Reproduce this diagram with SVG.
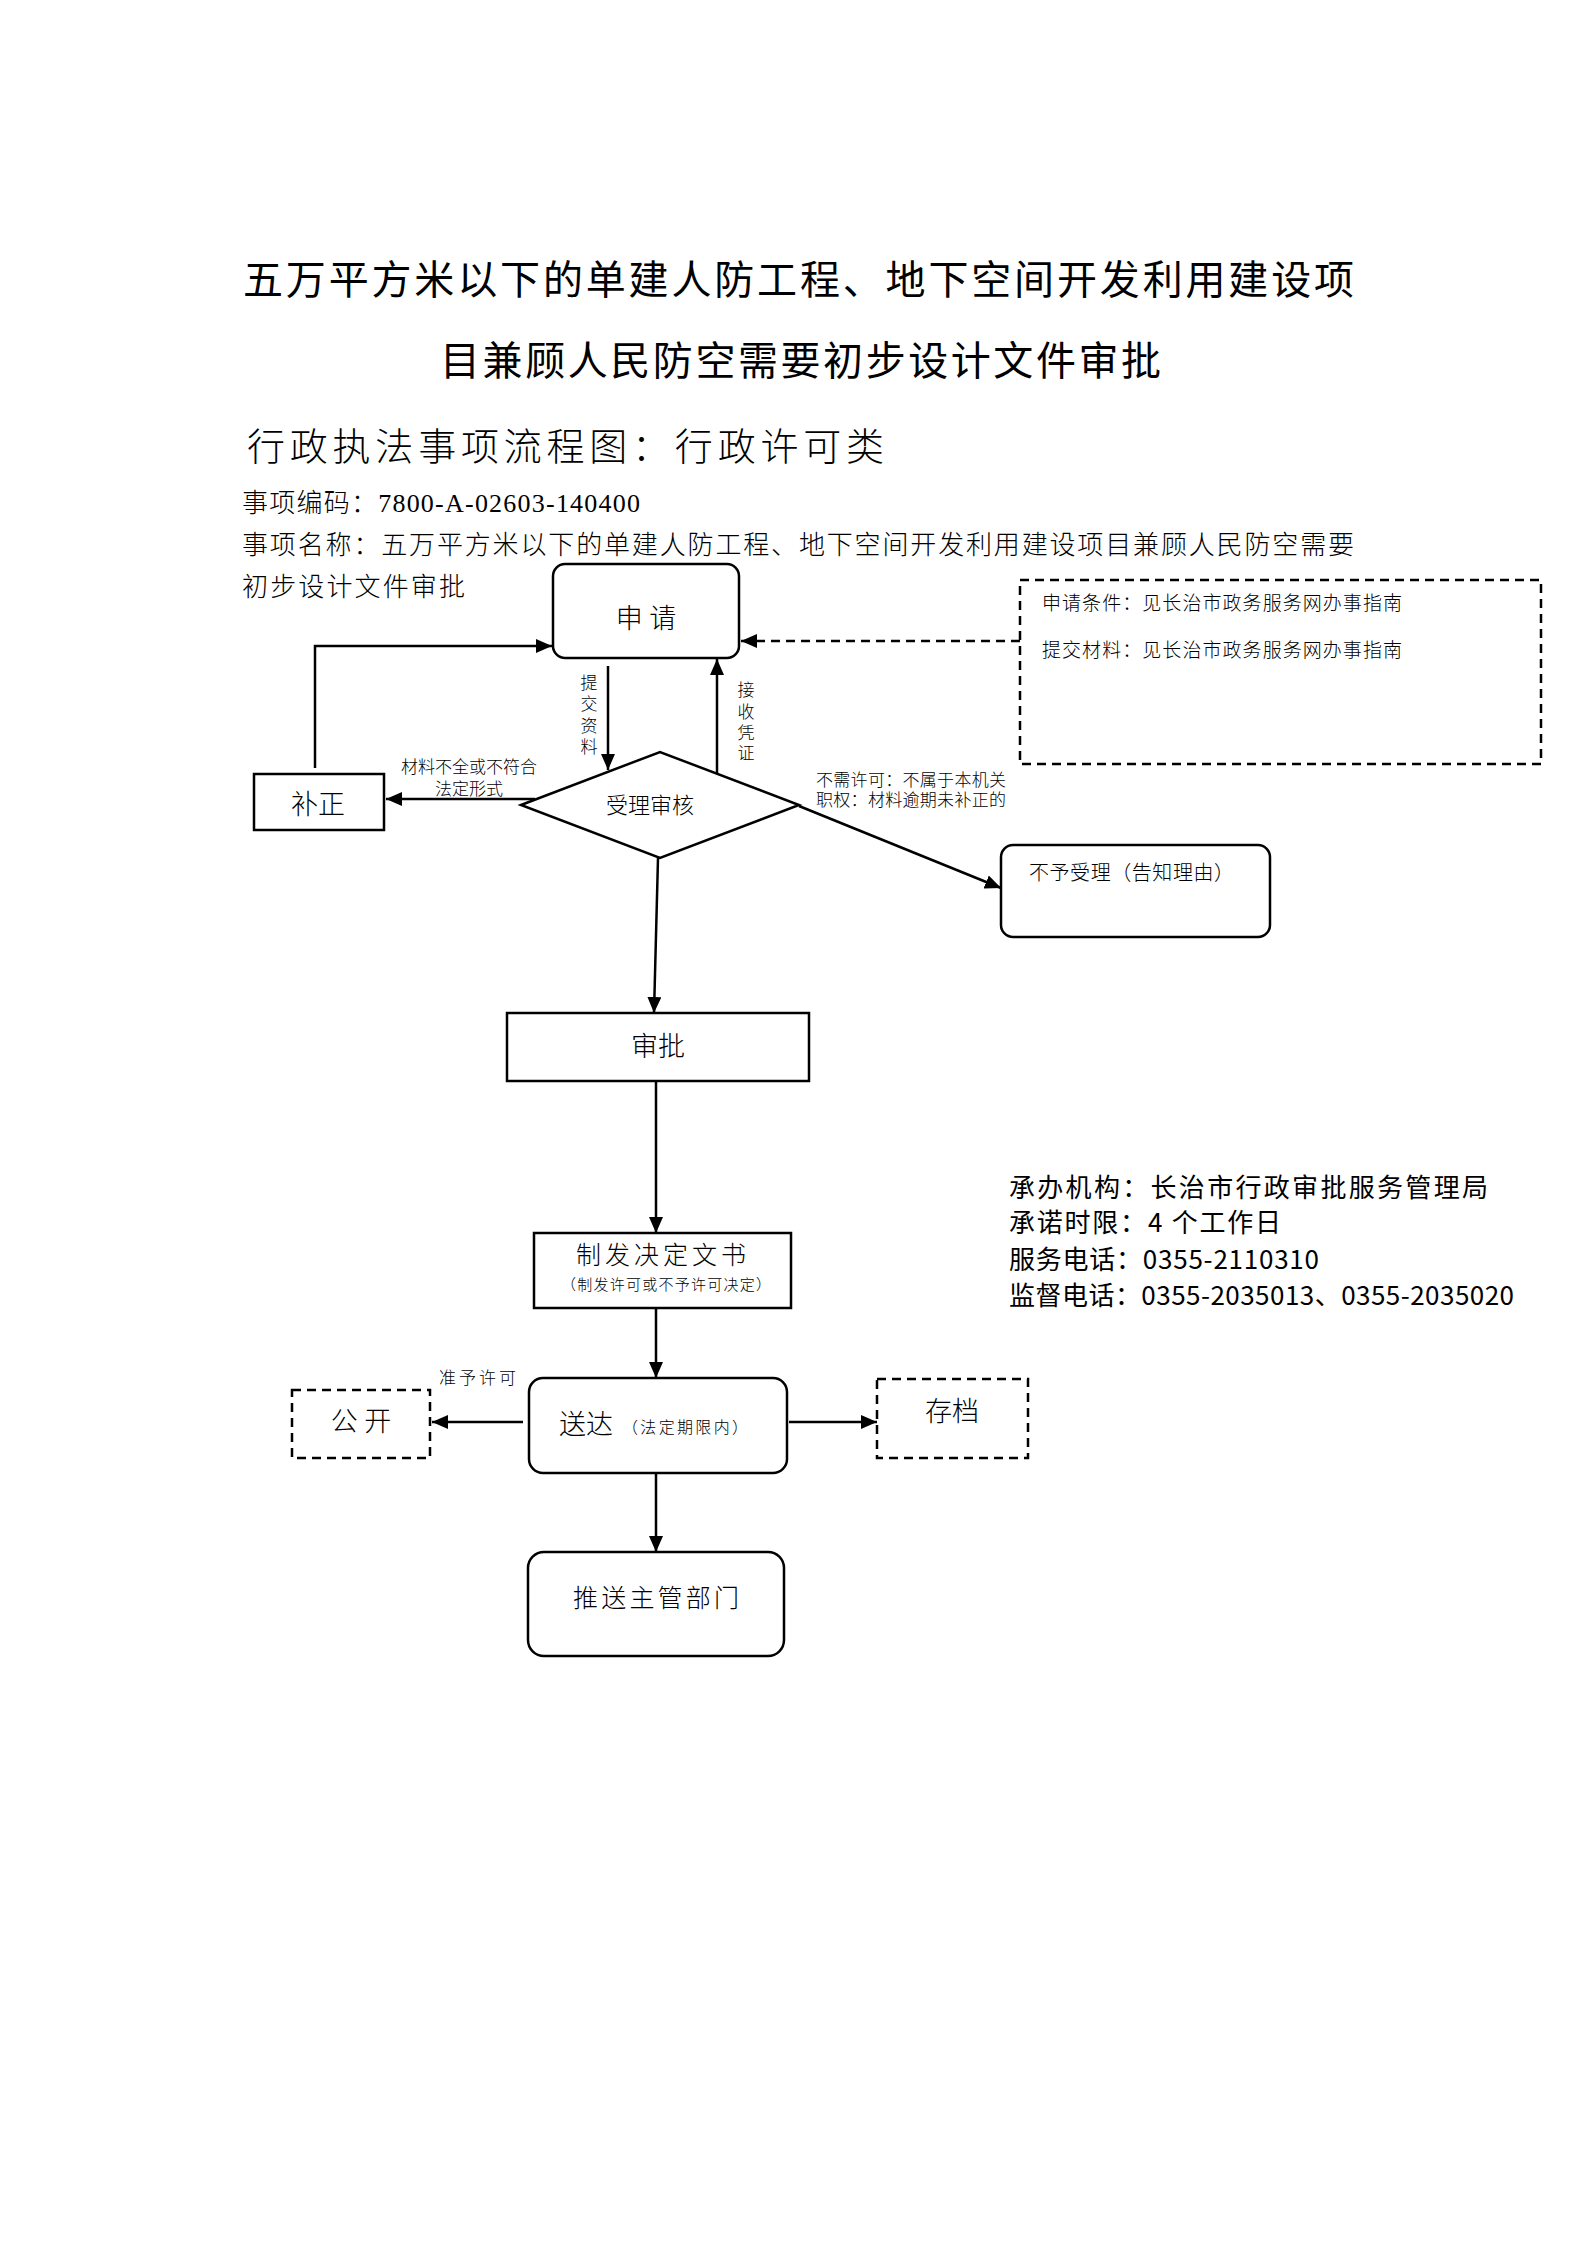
<svg xmlns="http://www.w3.org/2000/svg" width="1587" height="2245" viewBox="0 0 1587 2245">
<style>
.b{fill:#fff;stroke:#000;stroke-width:2.5}
.dbox{fill:none;stroke:#000;stroke-width:2.5;stroke-dasharray:9 6}
.c{fill:none;stroke:#000;stroke-width:2.5}
.cd{fill:none;stroke:#000;stroke-width:2.5;stroke-dasharray:9 6}
.s{font-family:"Liberation Serif","Noto Sans CJK SC",serif;fill:#000;font-weight:300}
.h{font-family:"Noto Sans CJK SC","Liberation Sans",sans-serif;fill:#000}
text{dominant-baseline:central}
</style>
<defs>
<marker id="ah" viewBox="0 0 16 14" refX="16" refY="7" markerWidth="16" markerHeight="14" markerUnits="userSpaceOnUse" orient="auto">
<path d="M0,0 L16,7 L0,14 z" fill="#000"/>
</marker>
</defs>
<rect width="1587" height="2245" fill="#fff"/>

<g id="header">
<text class="h" x="243" y="277" font-size="40" textLength="1111" lengthAdjust="spacing">五万平方米以下的单建人防工程、地下空间开发利用建设项</text>
<text class="h" x="440" y="358" font-size="40" textLength="721" lengthAdjust="spacing">目兼顾人民防空需要初步设计文件审批</text>
<text class="h" x="247" y="443" font-size="38" font-weight="300" textLength="637" lengthAdjust="spacing">行政执法事项流程图：行政许可类</text>
<text class="s" x="242" y="503" font-size="26" textLength="398" lengthAdjust="spacing">事项编码：7800-A-02603-140400</text>
<text class="s" x="242" y="545" font-size="26" textLength="1112" lengthAdjust="spacing">事项名称：五万平方米以下的单建人防工程、地下空间开发利用建设项目兼顾人民防空需要</text>
<text class="s" x="242" y="587" font-size="26" textLength="223" lengthAdjust="spacing">初步设计文件审批</text>
</g>

<g id="connectors">
<line class="c" x1="608" y1="666" x2="608" y2="770" marker-end="url(#ah)"/>
<line class="c" x1="717" y1="774" x2="717" y2="659" marker-end="url(#ah)"/>
<polyline class="c" points="315,768 315,646 552,646" marker-end="url(#ah)"/>
<line class="c" x1="535" y1="799" x2="386" y2="799" marker-end="url(#ah)"/>
<line class="cd" x1="1020" y1="641" x2="741" y2="641" marker-end="url(#ah)"/>
<line class="c" x1="799" y1="806" x2="1001" y2="888" marker-end="url(#ah)"/>
<line class="c" x1="658" y1="858" x2="654" y2="1013" marker-end="url(#ah)"/>
<line class="c" x1="656" y1="1081" x2="656" y2="1233" marker-end="url(#ah)"/>
<line class="c" x1="656" y1="1308" x2="656" y2="1378" marker-end="url(#ah)"/>
<line class="c" x1="523" y1="1422" x2="432" y2="1422" marker-end="url(#ah)"/>
<line class="c" x1="789" y1="1422" x2="877" y2="1422" marker-end="url(#ah)"/>
<line class="c" x1="656" y1="1473" x2="656" y2="1552" marker-end="url(#ah)"/>
<g id="connector-labels">
<g class="s" font-size="17" text-anchor="middle">
<text x="589" y="683">提</text><text x="589" y="704">交</text><text x="589" y="726">资</text><text x="589" y="747">料</text>
<text x="746" y="690">接</text><text x="746" y="712">收</text><text x="746" y="733">凭</text><text x="746" y="753">证</text>
</g>
<text class="s" x="469" y="767" font-size="17" text-anchor="middle">材料不全或不符合</text>
<text class="s" x="469" y="789" font-size="17" text-anchor="middle">法定形式</text>
<text class="s" x="816" y="780" font-size="17" textLength="190" lengthAdjust="spacing">不需许可：不属于本机关</text>
<text class="s" x="816" y="800" font-size="17" textLength="190" lengthAdjust="spacing">职权：材料逾期未补正的</text>
<text class="s" x="439" y="1378" font-size="17" textLength="77" lengthAdjust="spacing">准予许可</text>
</g>
</g>

<g id="node-apply">
<rect class="b" x="553" y="564" width="186" height="94" rx="12"/>
<text class="s" x="646" y="619" font-size="27" text-anchor="middle">申 请</text>
</g>

<g id="node-conditions">
<rect class="dbox" x="1020" y="580" width="521" height="184"/>
<text class="s" x="1042" y="603" font-size="19" textLength="360" lengthAdjust="spacing">申请条件：见长治市政务服务网办事指南</text>
<text class="s" x="1042" y="650" font-size="19" textLength="360" lengthAdjust="spacing">提交材料：见长治市政务服务网办事指南</text>
</g>

<g id="node-correct">
<rect class="b" x="254" y="774" width="130" height="56"/>
<text class="s" x="318" y="805" font-size="27" text-anchor="middle">补正</text>
</g>

<g id="node-review">
<polygon class="b" points="521,805 660,752 799,805 660,858"/>
<text class="s" x="650" y="805" font-size="22" text-anchor="middle">受理审核</text>
</g>

<g id="node-reject">
<rect class="b" x="1001" y="845" width="269" height="92" rx="12"/>
<text class="s" x="1029" y="873" font-size="20" textLength="205" lengthAdjust="spacing">不予受理（告知理由）</text>
</g>

<g id="node-approve">
<rect class="b" x="507" y="1013" width="302" height="68"/>
<text class="s" x="658" y="1047" font-size="27" text-anchor="middle">审批</text>
</g>

<g id="node-decision">
<rect class="b" x="534" y="1233" width="257" height="75"/>
<text class="s" x="576" y="1255" font-size="25" textLength="170" lengthAdjust="spacing">制发决定文书</text>
<text class="s" x="561" y="1285" font-size="15" textLength="210" lengthAdjust="spacing">（制发许可或不予许可决定）</text>
</g>

<g id="node-deliver">
<rect class="b" x="529" y="1378" width="258" height="95" rx="14"/>
<text class="s" x="559" y="1425" font-size="27">送达</text>
<text class="s" x="622" y="1427" font-size="16" textLength="126" lengthAdjust="spacing">（法定期限内）</text>
</g>

<g id="node-public">
<rect class="dbox" x="292" y="1390" width="138" height="68"/>
<text class="s" x="361" y="1422" font-size="27" text-anchor="middle">公 开</text>
</g>

<g id="node-archive">
<rect class="dbox" x="877" y="1379" width="151" height="79"/>
<text class="s" x="952" y="1412" font-size="27" text-anchor="middle">存档</text>
</g>

<g id="node-push">
<rect class="b" x="528" y="1552" width="256" height="104" rx="16"/>
<text class="s" x="573" y="1598" font-size="25" textLength="166" lengthAdjust="spacing">推送主管部门</text>
</g>

<g id="info">
<text class="h" x="1009" y="1185" font-size="26" textLength="479" lengthAdjust="spacing">承办机构：长治市行政审批服务管理局</text>
<text class="h" x="1009" y="1220" font-size="26" textLength="272" lengthAdjust="spacing">承诺时限：4 个工作日</text>
<text class="h" x="1009" y="1257" font-size="26" textLength="310" lengthAdjust="spacing">服务电话：0355-2110310</text>
<text class="h" x="1009" y="1293" font-size="26" textLength="505" lengthAdjust="spacing">监督电话：0355-2035013、0355-2035020</text>
</g>
</svg>
